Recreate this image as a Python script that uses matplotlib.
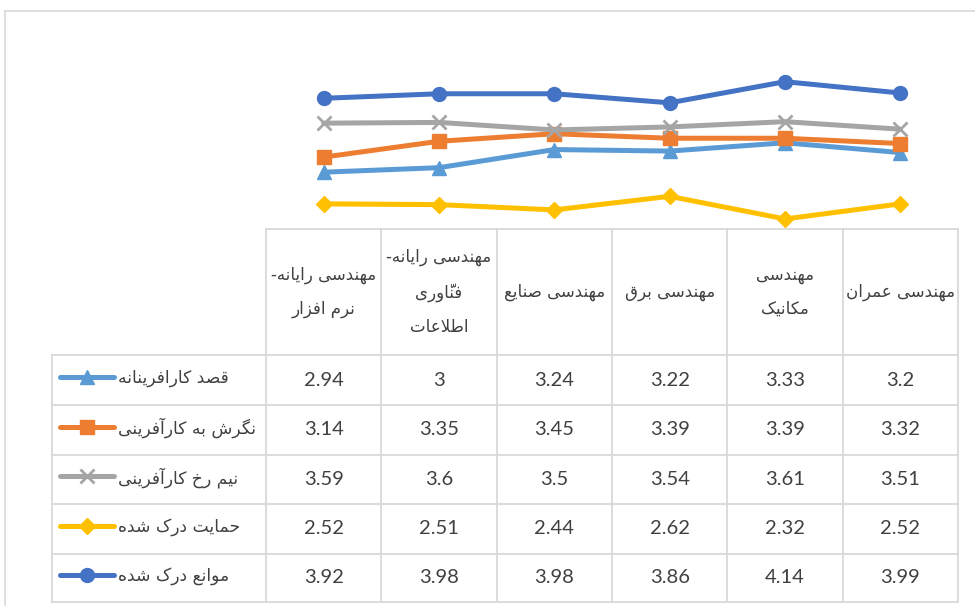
import matplotlib.pyplot as plt
from matplotlib.lines import Line2D

# data
categories = ["مهندسی رایانه-\nنرم افزار", "مهندسی رایانه-\nفنّاوری\nاطلاعات", "مهندسی صنایع",
              "مهندسی برق", "مهندسی\nمکانیک", "مهندسی عمران"]
series_names = ["قصد کارافرینانه", "نگرش به کارآفرینی", "نیم رخ کارآفرینی", "حمایت درک شده", "موانع درک شده"]
qasd = [2.94, 3, 3.24, 3.22, 3.33, 3.2]
negaresh = [3.14, 3.35, 3.45, 3.39, 3.39, 3.32]
nimrokh = [3.59, 3.6, 3.5, 3.54, 3.61, 3.51]
hemayat = [2.52, 2.51, 2.44, 2.62, 2.32, 2.52]
mavane = [3.92, 3.98, 3.98, 3.86, 4.14, 3.99]
series_values = [qasd, negaresh, nimrokh, hemayat, mavane]

colors = ["#5B9BD5", "#ED7D31", "#A5A5A5", "#FFC000", "#4472C4"]
markers = ["^", "s", "x", "D", "o"]
msizes = [10, 9.5, 10, 8, 10]

# small persian shaper (matplotlib has no text shaping)
FORMS = {
    '\u0627': ('\uFE8D', '\uFE8E', None, None),
    '\u0622': ('\uFE81', '\uFE82', None, None),
    '\u0628': ('\uFE8F', '\uFE90', '\uFE91', '\uFE92'),
    '\u062A': ('\uFE95', '\uFE96', '\uFE97', '\uFE98'),
    '\u062D': ('\uFEA1', '\uFEA2', '\uFEA3', '\uFEA4'),
    '\u062E': ('\uFEA5', '\uFEA6', '\uFEA7', '\uFEA8'),
    '\u062F': ('\uFEA9', '\uFEAA', None, None),
    '\u0631': ('\uFEAD', '\uFEAE', None, None),
    '\u0632': ('\uFEAF', '\uFEB0', None, None),
    '\u0633': ('\uFEB1', '\uFEB2', '\uFEB3', '\uFEB4'),
    '\u0634': ('\uFEB5', '\uFEB6', '\uFEB7', '\uFEB8'),
    '\u0635': ('\uFEB9', '\uFEBA', '\uFEBB', '\uFEBC'),
    '\u0637': ('\uFEC1', '\uFEC2', '\uFEC3', '\uFEC4'),
    '\u0639': ('\uFEC9', '\uFECA', '\uFECB', '\uFECC'),
    '\u0641': ('\uFED1', '\uFED2', '\uFED3', '\uFED4'),
    '\u0642': ('\uFED5', '\uFED6', '\uFED7', '\uFED8'),
    '\u0644': ('\uFEDD', '\uFEDE', '\uFEDF', '\uFEE0'),
    '\u0645': ('\uFEE1', '\uFEE2', '\uFEE3', '\uFEE4'),
    '\u0646': ('\uFEE5', '\uFEE6', '\uFEE7', '\uFEE8'),
    '\u0647': ('\uFEE9', '\uFEEA', '\uFEEB', '\uFEEC'),
    '\u0648': ('\uFEED', '\uFEEE', None, None),
    '\u06A9': ('\uFB8E', '\uFB8F', '\uFB90', '\uFB91'),
    '\u06AF': ('\uFB92', '\uFB93', '\uFB94', '\uFB95'),
    '\u06CC': ('\uFBFC', '\uFBFD', '\uFBFE', '\uFBFF'),
}
MARKS = {'\u0651'}


def shape_line(s):
    chars = list(s)
    n = len(chars)
    out = []
    i = 0
    while i < n:
        c = chars[i]
        if c not in FORMS:
            out.append(c)
            i += 1
            continue
        j = i - 1
        while j >= 0 and chars[j] in MARKS:
            j -= 1
        prev = chars[j] if j >= 0 else None
        k = i + 1
        while k < n and chars[k] in MARKS:
            k += 1
        nxt = chars[k] if k < n else None
        jp = prev in FORMS and FORMS[prev][2] is not None
        if c == '\u0644' and nxt == '\u0627':
            out.append('\uFEFC' if jp else '\uFEFB')
            i = k + 1
            continue
        jn = nxt in FORMS and FORMS[c][2] is not None
        f = FORMS[c]
        if jp and jn:
            g = f[3]
        elif jp:
            g = f[1]
        elif jn:
            g = f[2]
        else:
            g = f[0]
        out.append(g)
        i += 1
    # plain reversal: a mark ends up just before (left of) its base letter
    return ''.join(out[::-1])


def fa(s):
    return '\n'.join(shape_line(line) for line in s.split('\n'))


W, H = 975, 606
def fx(px):
    return px / W
def fy(py):
    return 1 - py / H

fig = plt.figure(figsize=(9.75, 6.06), dpi=100)
txt_col = "#404040"
grid_col = "#D9D9D9"
fa_font = ['DejaVu Sans']
num_font = ['Lato', 'DejaVu Sans']

# chart frame (partly outside the picture)
fig.add_artist(Line2D([fx(4.5), fx(4.5)], [fy(10.5), fy(610)], color=grid_col, lw=1.2))
fig.add_artist(Line2D([fx(4.5), fx(980)], [fy(10.5), fy(10.5)], color=grid_col, lw=1.2))

# plot area
col_edges = [266, 381.3, 496.7, 612, 727.3, 842.7, 958]
ax = fig.add_axes([fx(266), fy(228), (958 - 266) / W, (228 - 47) / H])
ax.set_xlim(-0.5, 5.5)
ax.set_ylim(2.2, 4.6)
ax.axis('off')
xs = list(range(len(categories)))
for vals, c, m, ms in zip(series_values, colors, markers, msizes):
    ax.plot(xs, vals, color=c, lw=3.6, marker=m, markersize=ms, mew=2 if m == 'x' else 1,
            mec=c, mfc=c, clip_on=False, solid_capstyle='round')

# table grid
row_edges = [355, 405, 454.5, 504, 553.5, 602]
top = 228.5
for x in col_edges:
    fig.add_artist(Line2D([fx(x), fx(x)], [fy(top), fy(row_edges[-1])], color=grid_col, lw=1.3))
fig.add_artist(Line2D([fx(52), fx(52)], [fy(row_edges[0]), fy(row_edges[-1])], color=grid_col, lw=1.3))
fig.add_artist(Line2D([fx(266), fx(958)], [fy(top), fy(top)], color=grid_col, lw=1.3))
for y in row_edges:
    fig.add_artist(Line2D([fx(52), fx(958)], [fy(y), fy(y)], color=grid_col, lw=1.3))

# header labels
for i, cat in enumerate(categories):
    cx = (col_edges[i] + col_edges[i + 1]) / 2
    fig.text(fx(cx), fy(292), fa(cat), ha='center', va='center', multialignment='center',
             linespacing=2.15, fontsize=12, color=txt_col, family=fa_font)

# rows
for r, (name, vals) in enumerate(zip(series_names, series_values)):
    cy = (row_edges[r] + row_edges[r + 1]) / 2
    fig.add_artist(Line2D([fx(60), fx(114)], [fy(cy - 3), fy(cy - 3)], color=colors[r], lw=3.6,
                          solid_capstyle='round'))
    fig.add_artist(Line2D([fx(87)], [fy(cy - 3)], color=colors[r], marker=markers[r],
                          markersize=msizes[r], mew=2 if markers[r] == 'x' else 1,
                          mec=colors[r], mfc=colors[r], lw=0))
    fig.text(fx(118), fy(cy - 2), fa(name), ha='left', va='center', fontsize=12.3,
             color=txt_col, family=fa_font)
    for i, v in enumerate(vals):
        cx = (col_edges[i] + col_edges[i + 1]) / 2
        fig.text(fx(cx), fy(cy), f"{v:g}", ha='center', va='center', fontsize=14.5,
                 color=txt_col, family=num_font)

fig.savefig("out.png", dpi=100)
